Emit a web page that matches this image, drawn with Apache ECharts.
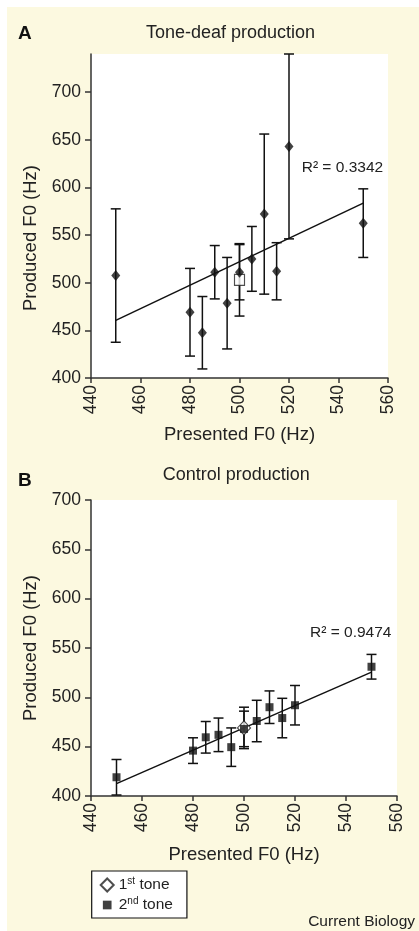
<!DOCTYPE html>
<html><head><meta charset="utf-8">
<script src="https://cdn.jsdelivr.net/npm/echarts@6/dist/echarts.min.js"></script>
<style>
html,body{margin:0;padding:0;background:#fff;width:419px;height:931px;overflow:hidden}
#c{position:absolute;left:7px;top:7px;width:412px;height:924px;background:#fcf9e0}
</style></head><body><div id="c"></div>
<script>
// ---- Data (Hz) ----
const presentedA = [450, 480, 485, 490, 495, 500, 505, 510, 515, 520, 550];
const producedA  = [507.5, 469, 447.5, 511, 478.5, 511, 525, 572, 512, 643, 562.5];
const errA       = [70, 46, 38, 28, 48, 29, 34, 84, 30, 97, 36];
const firstPresentedA = [500];
const firstProducedA  = [503];
const firstErrA       = [38];
const fitA = [[450, 460.5], [550, 583.5]];
const r2A = 'R² = 0.3342';

const presentedB = [450, 480, 485, 490, 495, 500, 505, 510, 515, 520, 550];
const producedB  = [419, 446, 459.5, 462, 449.5, 468, 476, 490, 479, 492, 531];
const errB       = [18, 13, 16, 17, 19.5, 18, 21, 16.5, 20, 20, 12.5];
const firstPresentedB = [500];
const firstProducedB  = [469];
const firstErrB       = [21];
const fitB = [[450, 412.5], [550, 525.5]];
const r2B = 'R² = 0.9474';

const xTicks = [440, 460, 480, 500, 520, 540, 560];
const yTicks = [400, 450, 500, 550, 600, 650, 700];

const FF = '"Liberation Sans", Arial, sans-serif';
const TXT = '#222';
const AX = '#333';

function pts(x, y) { return x.map((v, i) => [v, y[i]]); }
function bars(x, y, e) { return x.map((v, i) => [v, y[i] - e[i], y[i] + e[i]]); }

function errorBarItem(params, api) {
  const x = api.value(0), lo = api.value(1), hi = api.value(2);
  const p1 = api.coord([x, hi]), p2 = api.coord([x, lo]);
  const w = 5;
  const st = { stroke: '#111', lineWidth: 1.5 };
  return { type: 'group', children: [
    { type: 'line', shape: { x1: p1[0], y1: p1[1], x2: p2[0], y2: p2[1] }, style: st },
    { type: 'line', shape: { x1: p1[0] - w, y1: p1[1], x2: p1[0] + w, y2: p1[1] }, style: st },
    { type: 'line', shape: { x1: p2[0] - w, y1: p2[1], x2: p2[0] + w, y2: p2[1] }, style: st }
  ]};
}

function xAxis(gridIndex, nameGap) {
  return {
    type: 'value', gridIndex, min: 440, max: 560, interval: 20,
    name: 'Presented F0 (Hz)', nameLocation: 'middle', nameGap,
    nameTextStyle: { fontSize: 18.5, color: TXT, fontFamily: FF },
    axisLine: { show: true, onZero: false, lineStyle: { color: AX, width: 1.5 } },
    axisTick: { show: true, length: 5, lineStyle: { color: AX, width: 1.5 }, customValues: xTicks },
    axisLabel: { rotate: 90, margin: 7, fontSize: 17.5, color: TXT, fontFamily: FF, customValues: xTicks },
    splitLine: { show: false }
  };
}
function yAxis(gridIndex, max, pad) {
  return {
    type: 'value', gridIndex, min: 400, max, interval: 50,
    name: 'Produced F0 (Hz)', nameLocation: 'middle', nameGap: 46, nameRotate: 90,
    nameTextStyle: { fontSize: 18.5, color: TXT, fontFamily: FF, padding: pad },
    axisLine: { show: true, onZero: false, lineStyle: { color: AX, width: 1.5 } },
    axisTick: { show: true, length: 6, lineStyle: { color: AX, width: 1.5 }, customValues: yTicks },
    axisLabel: { margin: 10, fontSize: 17.5, color: TXT, fontFamily: FF, customValues: yTicks },
    splitLine: { show: false }
  };
}

const squareIcon = 'image://data:image/svg+xml;charset=utf-8,' + encodeURIComponent(
  '<svg xmlns="http://www.w3.org/2000/svg" width="12" height="12" viewBox="0 0 12 12"><rect x="2" y="2" width="8" height="8" fill="#111"/></svg>');

const chart = echarts.init(document.getElementById('c'), null, { renderer: 'canvas' });
chart.setOption({
  animation: false,
  backgroundColor: 'transparent',
  textStyle: { fontFamily: FF },
  grid: [
    { left: 84, top: 47, width: 297, height: 324, show: true, backgroundColor: '#fff', borderWidth: 0 },
    { left: 84, top: 493, width: 306, height: 296, show: true, backgroundColor: '#fff', borderWidth: 0 }
  ],
  xAxis: [xAxis(0, 47), xAxis(1, 49)],
  yAxis: [yAxis(0, 740, [0, 44, 0, 0]), yAxis(1, 700, [0, 0, 0, 0])],
  legend: {
    data: [{ name: '1st tone' }, { name: '2nd tone', icon: squareIcon }],
    orient: 'vertical', left: 84.7, top: 864,
    padding: [5, 14, 5, 8], itemGap: 3, itemWidth: 13, itemHeight: 13,
    borderColor: '#111', borderWidth: 1.2, backgroundColor: '#fff', borderRadius: 0,
    selectedMode: false,
    formatter: n => n === '1st tone' ? '{n|1}{s|st}{n| tone}' : '{n|2}{s|nd}{n| tone}',
    textStyle: {
      color: TXT, fontFamily: FF, fontSize: 15.5,
      rich: {
        n: { fontSize: 15.5, color: TXT, fontFamily: FF, lineHeight: 18 },
        s: { fontSize: 10, color: TXT, fontFamily: FF, lineHeight: 18, verticalAlign: 'top', padding: [0, 0, 6, 0] }
      }
    }
  },
  graphic: [
    { type: 'text', left: 11, top: 17, style: { text: 'A', font: 'bold 19px ' + FF, fill: '#111' } },
    { type: 'text', x: 223.5, y: 26, style: { text: 'Tone-deaf production', font: '18px ' + FF, fill: TXT, align: 'center', verticalAlign: 'middle' } },
    { type: 'text', x: 294.7, y: 161, style: { text: r2A, font: '15.5px ' + FF, fill: TXT, align: 'left', verticalAlign: 'middle' } },
    { type: 'text', left: 11, top: 464, style: { text: 'B', font: 'bold 19px ' + FF, fill: '#111' } },
    { type: 'text', x: 229.3, y: 468, style: { text: 'Control production', font: '18px ' + FF, fill: TXT, align: 'center', verticalAlign: 'middle' } },
    { type: 'text', x: 303, y: 626, style: { text: r2B, font: '15.5px ' + FF, fill: TXT, align: 'left', verticalAlign: 'middle' } },
    { type: 'text', x: 408, y: 914.7, style: { text: 'Current Biology', font: '15.5px ' + FF, fill: TXT, align: 'right', verticalAlign: 'middle' } }
  ],
  series: [
    // Panel A
    { type: 'custom', name: 'errA', xAxisIndex: 0, yAxisIndex: 0, renderItem: errorBarItem, encode: { x: 0, y: [1, 2] }, data: bars(presentedA, producedA, errA), z: 2, silent: true },
    { type: 'custom', name: 'errA1', xAxisIndex: 0, yAxisIndex: 0, renderItem: errorBarItem, encode: { x: 0, y: [1, 2] }, data: bars(firstPresentedA, firstProducedA, firstErrA), z: 2, silent: true },
    { type: 'line', name: 'fitA', xAxisIndex: 0, yAxisIndex: 0, data: fitA, showSymbol: false, symbol: 'none', lineStyle: { color: '#111', width: 1.5 }, z: 3, silent: true },
    { type: 'scatter', name: 'firstA', xAxisIndex: 0, yAxisIndex: 0, data: pts(firstPresentedA, firstProducedA), symbol: 'rect', symbolSize: [10, 11], itemStyle: { color: '#fff', borderColor: '#222', borderWidth: 1.2 }, z: 4 },
    { type: 'scatter', name: 'secondA', xAxisIndex: 0, yAxisIndex: 0, data: pts(presentedA, producedA), symbol: 'diamond', symbolSize: [9, 11], itemStyle: { color: '#111' }, z: 5 },
    // Panel B
    { type: 'custom', name: 'errB', xAxisIndex: 1, yAxisIndex: 1, renderItem: errorBarItem, encode: { x: 0, y: [1, 2] }, data: bars(presentedB, producedB, errB), z: 2, silent: true },
    { type: 'custom', name: 'errB1', xAxisIndex: 1, yAxisIndex: 1, renderItem: errorBarItem, encode: { x: 0, y: [1, 2] }, data: bars(firstPresentedB, firstProducedB, firstErrB), z: 2, silent: true },
    { type: 'line', name: 'fitB', xAxisIndex: 1, yAxisIndex: 1, data: fitB, showSymbol: false, symbol: 'none', lineStyle: { color: '#111', width: 1.5 }, z: 3, silent: true },
    { type: 'scatter', name: '1st tone', xAxisIndex: 1, yAxisIndex: 1, data: pts(firstPresentedB, firstProducedB), symbol: 'diamond', symbolSize: [13, 14], itemStyle: { color: '#fff', borderColor: '#222', borderWidth: 1.2 }, z: 4 },
    { type: 'scatter', name: '2nd tone', xAxisIndex: 1, yAxisIndex: 1, data: pts(presentedB, producedB), symbol: 'rect', symbolSize: [8, 8], itemStyle: { color: '#111' }, z: 5 }
  ]
});
</script></body></html>
